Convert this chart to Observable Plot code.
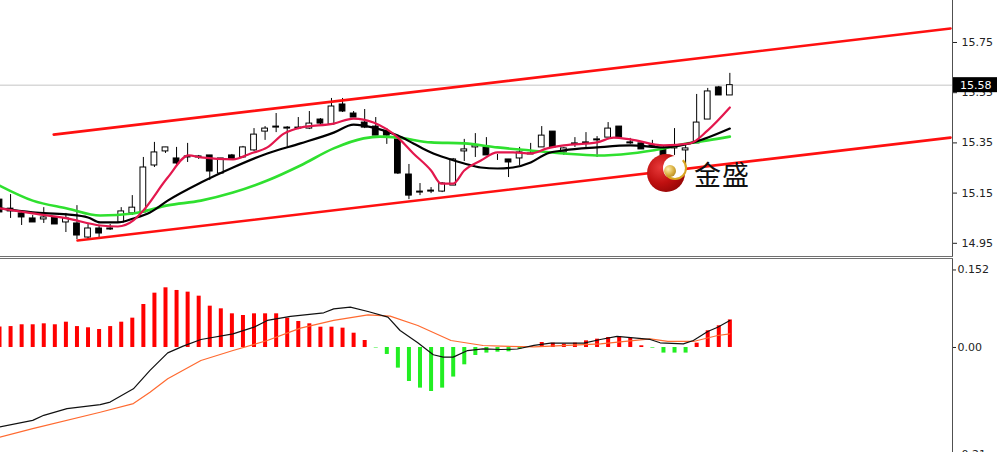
<!DOCTYPE html>
<html><head><meta charset="utf-8">
<script src="https://cdn.jsdelivr.net/npm/d3@7"></script>
<script src="https://cdn.jsdelivr.net/npm/@observablehq/plot@0.6"></script>
<style>
html,body{margin:0;padding:0;background:#fff;}
body{width:997px;height:452px;overflow:hidden;font-family:"DejaVu Sans",sans-serif;}
#wrap{position:relative;width:997px;height:452px;}
svg{display:block;}
.sep{width:953px;height:1px;border-top:1px solid #707070;border-bottom:1px solid #707070;}
.abs{position:absolute;border-radius:50%;}
#disc{left:647px;top:154px;width:38px;height:38px;background:radial-gradient(circle at 35% 35%,#e83a3a 0%,#c01010 45%,#7a0000 100%);}
#hole{left:663px;top:156px;width:20px;height:20px;background:#fff;border:2px solid transparent;border-bottom-color:#d9a520;border-right-color:#d9a520;}
#ball{left:664px;top:165px;width:12px;height:12px;background:radial-gradient(circle at 35% 35%,#fff0b0 0%,#d9b040 50%,#9a7010 100%);}
#brand{position:absolute;left:694px;top:160px;font-family:"Noto Sans CJK SC",sans-serif;font-size:27px;line-height:1;color:#111;letter-spacing:1px;}
</style></head><body>
<div id="wrap">
  <div id="top"></div>
  <div class="sep"></div>
  <div id="bottom"></div>
  <div id="disc" class="abs"></div><div id="hole" class="abs"></div><div id="ball" class="abs"></div>
  <div id="brand">金盛</div>
</div>
<script>
// ---- data ----
// candles: [open, high, low, close]
const candles = [
[15.124,15.136,15.065,15.073],[15.088,15.144,15.049,15.077],[15.069,15.080,15.021,15.053],[15.049,15.061,15.033,15.033],
[15.045,15.092,15.029,15.053],[15.053,15.057,15.025,15.025],[15.033,15.069,14.993,15.049],[15.029,15.100,14.965,14.981],
[14.973,15.029,14.965,15.009],[15.009,15.021,14.965,14.989],[15.005,15.025,15.001,15.009],[15.033,15.092,15.033,15.077],
[15.069,15.140,15.061,15.092],[15.073,15.292,15.069,15.252],[15.260,15.352,15.252,15.312],[15.316,15.332,15.308,15.332],
[15.288,15.332,15.260,15.268],[15.296,15.348,15.272,15.292],[15.292,15.300,15.284,15.296],[15.300,15.300,15.200,15.236],
[15.228,15.288,15.228,15.288],[15.300,15.304,15.280,15.284],[15.292,15.336,15.288,15.332],[15.320,15.407,15.316,15.383],
[15.395,15.415,15.360,15.407],[15.411,15.467,15.391,15.415],[15.407,15.415,15.332,15.411],[15.407,15.451,15.403,15.411],
[15.407,15.475,15.403,15.427],[15.443,15.447,15.423,15.427],[15.423,15.527,15.423,15.495],[15.503,15.527,15.471,15.475],
[15.467,15.475,15.451,15.451],[15.431,15.483,15.407,15.411],[15.415,15.451,15.379,15.379],[15.395,15.407,15.344,15.379],
[15.364,15.364,15.224,15.228],[15.224,15.264,15.124,15.140],[15.152,15.188,15.140,15.156],[15.156,15.172,15.148,15.160],
[15.156,15.192,15.152,15.188],[15.180,15.288,15.180,15.284],[15.316,15.364,15.276,15.324],[15.332,15.387,15.292,15.340],
[15.332,15.371,15.300,15.300],[15.292,15.304,15.280,15.292],[15.284,15.284,15.212,15.272],[15.288,15.332,15.260,15.312],
[15.304,15.348,15.304,15.308],[15.332,15.415,15.332,15.379],[15.395,15.395,15.328,15.332],[15.312,15.332,15.300,15.328],
[15.344,15.371,15.332,15.348],[15.348,15.391,15.332,15.352],[15.360,15.375,15.292,15.364],[15.371,15.431,15.371,15.407],
[15.415,15.415,15.371,15.371],[15.352,15.368,15.344,15.348],[15.348,15.352,15.324,15.324],[15.340,15.360,15.328,15.336],
[15.328,15.336,15.292,15.292],[15.328,15.407,15.300,15.336],[15.320,15.340,15.252,15.328],[15.348,15.543,15.348,15.431],
[15.443,15.567,15.443,15.555],[15.571,15.575,15.539,15.539],[15.539,15.627,15.539,15.580]
];
// moving averages: [bar index, price]
const maFast = [[0,15.089],[3,15.069],[6.1,15.049],[9.1,15.021],[10.7,15.017],[12.1,15.041],[13,15.081],[15.2,15.212],[17.1,15.300],[18.2,15.292],[21.1,15.284],[22.7,15.308],[24.2,15.332],[25.7,15.387],[27.2,15.411],[30.2,15.427],[32,15.447],[33.8,15.431],[36,15.371],[37.4,15.308],[39,15.240],[39.9,15.188],[41,15.188],[42,15.240],[43.5,15.280],[45,15.312],[46.4,15.312],[48,15.308],[49.5,15.328],[51,15.340],[54,15.352],[55.5,15.371],[57,15.364],[60,15.340],[62.4,15.348],[64,15.400],[66,15.491]];
const maMid = [[0,15.089],[3,15.073],[6.1,15.065],[8,15.053],[9.1,15.033],[10.7,15.033],[12.1,15.049],[13.6,15.073],[15.2,15.120],[18.2,15.192],[21.1,15.252],[24.2,15.308],[27.2,15.348],[30.2,15.391],[32,15.423],[33.8,15.411],[36,15.379],[37.4,15.348],[39,15.312],[40.5,15.288],[42,15.268],[43.5,15.252],[45,15.248],[46.4,15.252],[48,15.272],[49.5,15.308],[51,15.320],[54,15.332],[57,15.340],[60,15.332],[62.7,15.352],[66,15.407]];
const maSlow = [[0,15.180],[3,15.120],[6.1,15.089],[9.1,15.061],[12.1,15.069],[15.2,15.101],[18.2,15.120],[21.1,15.152],[24.2,15.200],[27.2,15.260],[30.2,15.328],[32.9,15.368],[34.4,15.375],[36,15.371],[39,15.352],[42,15.348],[45,15.332],[48,15.320],[51,15.308],[54,15.300],[57,15.308],[60,15.328],[62.2,15.348],[64,15.360],[66,15.375]];
const channelUpper = [[4.9,15.383],[85.94,15.806]];
const channelLower = [[7.05,14.961],[85.94,15.371]];
const priceTicks = [15.75,15.55,15.35,15.15,14.95];
const lastPrice = 15.58;
// MACD
const macdHist = [0.040,0.041,0.0445,0.0445,0.0464,0.0445,0.0496,0.041,0.0386,0.0353,
0.041,0.0496,0.0575,0.0843,0.1065,0.117,0.1118,0.1085,0.1006,0.081,
0.0758,0.066,0.0627,0.066,0.066,0.066,0.0575,0.051,0.0464,0.0398,
0.0398,0.0379,0.028,0.0137,-0.001,-0.0137,-0.0405,-0.0667,-0.0797,-0.0863,
-0.0797,-0.058,-0.034,-0.0157,-0.011,-0.0092,-0.0085,-0.003,0.002,0.0098,
0.0085,0.0065,0.0085,0.013,0.0163,0.0196,0.021,0.0176,0.0033,-0.0013,
-0.011,-0.011,-0.011,0.0085,0.0327,0.0425,0.054];
const macdMain = [[0,-0.156],[3,-0.143],[4,-0.133],[6.1,-0.120],[9.1,-0.112],[10,-0.107],[12.1,-0.081],[13.6,-0.045],[15.2,-0.0105],[16.6,0.0026],[18.2,0.0157],[21.1,0.0268],[23,0.0398],[24.2,0.053],[26.3,0.061],[29.3,0.068],[30.2,0.0758],[31.7,0.079],[33.3,0.0706],[35.1,0.0594],[36.2,0.0333],[37.8,0.0092],[39.2,-0.0143],[40.1,-0.019],[41,-0.019],[42.3,-0.006],[43.7,-0.0026],[45.3,-0.004],[46.8,-0.003],[48.3,0.004],[49.8,0.0085],[52.8,0.0085],[54.3,0.0157],[55.8,0.0216],[57.3,0.019],[58.8,0.0157],[59.7,0.0092],[61.8,0.0072],[62.7,0.0137],[64,0.0314],[64.9,0.0398],[66,0.053]];
const macdSignal = [[0,-0.176],[3,-0.159],[9.1,-0.127],[12.1,-0.110],[13.6,-0.0876],[15.2,-0.0614],[18.2,-0.0255],[21.1,-0.0059],[24.2,0.0137],[27.2,0.0379],[30.2,0.053],[33.3,0.064],[35.3,0.0614],[37.8,0.0431],[40.8,0.0137],[43.7,0.0039],[45.3,0.0026],[48.3,0.001],[54.3,0.0072],[58.8,0.017],[60.4,0.0118],[62.7,0.0118],[64.9,0.0235],[66,0.0268]];
const macdTicks = [0.152,0,-0.21];
const macdTickLabels = ["0.152","0.00","-0.21"];

// ---- build ----
const bars = candles.map(([o,h,l,c],i)=>({i,o,h,l,c,up:c>=o}));
const hist = macdHist.map((v,i)=>({i,v}));
const xDomain = [0.09, 86.12];
const W = 997;
const axisStyle = {fontSize:"11px", fontFamily:"DejaVu Sans, sans-serif", color:"#222", background:"#fff"};
const X = d=>d[0], Y = d=>d[1];

const topPlot = Plot.plot({
  width: W, height: 256, marginLeft: 0, marginRight: 45, marginTop: 0, marginBottom: 0,
  style: axisStyle,
  x: {domain: xDomain, axis: null},
  y: {domain: [14.8974, 15.9173], axis: "right", label: null, ticks: priceTicks, tickFormat: d=>d.toFixed(2), tickSize: 4, tickPadding: 5},
  marks: [
    Plot.ruleY([lastPrice], {stroke: "#c4c4c4", strokeWidth: 1}),
    Plot.ruleX(bars, {x: "i", y1: "l", y2: "h", stroke: "#000", strokeWidth: 1}),
    Plot.rect(bars, {filter: d=>d.up, x1: d=>d.i-0.26, x2: d=>d.i+0.26, y1: "o", y2: "c", fill: "#fff", stroke: "#000", strokeWidth: 1}),
    Plot.rect(bars, {filter: d=>!d.up, x1: d=>d.i-0.26, x2: d=>d.i+0.26, y1: "o", y2: "c", fill: "#000", stroke: "#000", strokeWidth: 1}),
    Plot.line(maSlow, {x: X, y: Y, stroke: "#2fe02f", strokeWidth: 2.6, curve: "monotone-x"}),
    Plot.line(maMid, {x: X, y: Y, stroke: "#000", strokeWidth: 2.2, curve: "monotone-x"}),
    Plot.line(maFast, {x: X, y: Y, stroke: "#e3174d", strokeWidth: 2.2, curve: "monotone-x"}),
    Plot.line(channelUpper, {x: X, y: Y, stroke: "#ff1010", strokeWidth: 2.6}),
    Plot.line(channelLower, {x: X, y: Y, stroke: "#ff1010", strokeWidth: 2.6}),
    Plot.ruleX([xDomain[1]], {stroke: "#505050", strokeWidth: 1})
  ]
});
document.getElementById("top").appendChild(topPlot);

// current-price label box on the right axis
{
  const yy = topPlot.scale("y").apply(lastPrice);
  const x0 = W - 45 + 1;
  const g = d3.select(topPlot).append("g").attr("text-anchor", "start");
  g.append("rect").attr("x", x0).attr("y", yy - 7.5).attr("width", 44).attr("height", 15).attr("fill", "#000");
  g.append("text").attr("x", x0 + 7).attr("y", yy).attr("dy", "0.36em").attr("text-anchor", "start")
    .attr("fill", "#fff").attr("font-size", 11).attr("font-family", "DejaVu Sans, sans-serif")
    .text(lastPrice.toFixed(2));
}

const bottomPlot = Plot.plot({
  width: W, height: 196, marginLeft: 0, marginRight: 45, marginTop: 0, marginBottom: 0,
  style: axisStyle,
  x: {domain: xDomain, axis: null},
  y: {domain: [-0.2118, 0.1725], axis: "right", label: null, ticks: macdTicks, tickFormat: (d)=>macdTickLabels[macdTicks.indexOf(d)], tickSize: 3, tickPadding: 2},
  marks: [
    Plot.ruleX(hist, {filter: d=>d.v>=0, x: "i", y1: 0, y2: "v", stroke: "#ff0000", strokeWidth: 4}),
    Plot.ruleX(hist, {filter: d=>d.v<0, x: "i", y1: 0, y2: "v", stroke: "#22ee22", strokeWidth: 4}),
    Plot.line(macdSignal, {x: X, y: Y, stroke: "#ff6a30", strokeWidth: 1.2}),
    Plot.line(macdMain, {x: X, y: Y, stroke: "#111", strokeWidth: 1.2}),
    Plot.ruleX([xDomain[1]], {stroke: "#505050", strokeWidth: 1})
  ]
});
document.getElementById("bottom").appendChild(bottomPlot);
</script>
</body></html>
